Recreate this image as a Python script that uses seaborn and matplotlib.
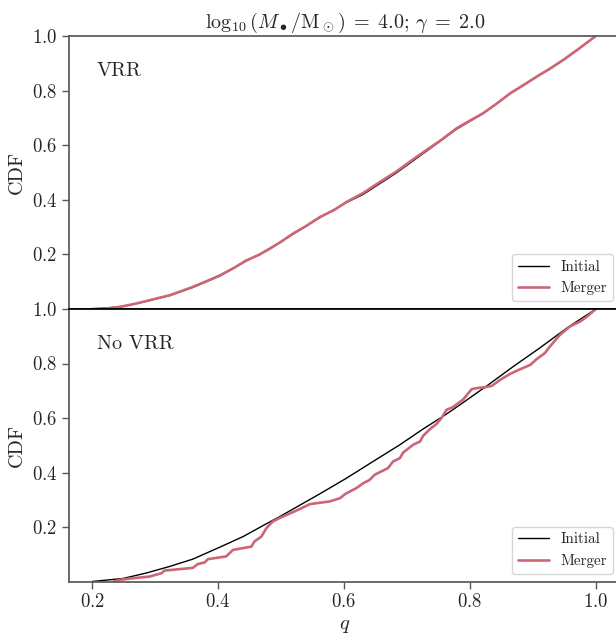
import numpy as np
import pandas as pd
import matplotlib
matplotlib.use("Agg")
import matplotlib.pyplot as plt
import seaborn as sns

# ---- data ----
q_top_init = [0.200, 0.249, 0.286, 0.323, 0.360, 0.403, 0.445, 0.482, 0.519, 0.562,
              0.604, 0.630, 0.683, 0.731, 0.779, 0.821, 0.864, 0.906, 0.948, 1.000]
cdf_top_init = [0.000, 0.009, 0.028, 0.049, 0.079, 0.121, 0.176, 0.219, 0.274, 0.335,
                0.390, 0.419, 0.498, 0.578, 0.659, 0.716, 0.789, 0.850, 0.911, 1.000]

q_top_merg = [0.200, 0.230, 0.249, 0.270, 0.286, 0.305, 0.323, 0.340, 0.360, 0.380,
              0.403, 0.425, 0.445, 0.465, 0.482, 0.500, 0.519, 0.540, 0.562, 0.585,
              0.604, 0.630, 0.655, 0.683, 0.705, 0.731, 0.755, 0.779, 0.800, 0.821,
              0.843, 0.864, 0.885, 0.906, 0.927, 0.948, 0.970, 1.000]
cdf_top_merg = [0.000, 0.003, 0.010, 0.020, 0.029, 0.040, 0.050, 0.064, 0.081, 0.100,
                0.123, 0.150, 0.178, 0.198, 0.221, 0.246, 0.276, 0.304, 0.337, 0.363,
                0.392, 0.424, 0.462, 0.503, 0.540, 0.582, 0.620, 0.662, 0.690, 0.717,
                0.753, 0.790, 0.820, 0.851, 0.880, 0.912, 0.948, 1.000]

q_bot_init = [0.200, 0.249, 0.286, 0.323, 0.360, 0.403, 0.440, 0.477, 0.498, 0.517,
              0.562, 0.604, 0.646, 0.689, 0.726, 0.760, 0.784, 0.827, 0.869, 0.911,
              0.954, 1.000]
cdf_bot_init = [0.000, 0.011, 0.031, 0.055, 0.082, 0.126, 0.165, 0.212, 0.238, 0.263,
                0.322, 0.379, 0.440, 0.502, 0.560, 0.610, 0.648, 0.718, 0.789, 0.857,
                0.930, 1.000]

q_bot_merg = [0.235, 0.244, 0.265, 0.291, 0.310, 0.315, 0.360, 0.368, 0.379, 0.384,
              0.413, 0.424, 0.453, 0.458, 0.469, 0.477, 0.487, 0.498, 0.530, 0.546,
              0.578, 0.594, 0.602, 0.620, 0.631, 0.641, 0.649, 0.670, 0.678, 0.689,
              0.694, 0.710, 0.721, 0.726, 0.737, 0.747, 0.755, 0.763, 0.773, 0.789,
              0.803, 0.812, 0.824, 0.835, 0.848, 0.864, 0.880, 0.896, 0.906, 0.919,
              0.927, 0.943, 0.959, 0.975, 0.986, 1.000]
cdf_bot_merg = [0.000, 0.006, 0.012, 0.018, 0.030, 0.040, 0.050, 0.064, 0.070, 0.082,
                0.092, 0.116, 0.128, 0.147, 0.165, 0.196, 0.220, 0.233, 0.266, 0.284,
                0.294, 0.306, 0.321, 0.343, 0.361, 0.373, 0.392, 0.416, 0.440, 0.453,
                0.473, 0.502, 0.514, 0.535, 0.560, 0.578, 0.600, 0.630, 0.640, 0.667,
                0.706, 0.710, 0.713, 0.718, 0.740, 0.762, 0.779, 0.795, 0.816, 0.838,
                0.862, 0.905, 0.936, 0.954, 0.972, 1.000]

panel_labels = ["VRR", "No VRR"]
series_labels = ["Initial", "Merger"]
xticks = [0.2, 0.4, 0.6, 0.8, 1.0]
yticks = [0.2, 0.4, 0.6, 0.8, 1.0]

# ---- style ----
sns.set_theme(style="ticks")
plt.rcParams["font.family"] = ["cmr10", "DejaVu Serif"]
plt.rcParams["mathtext.fontset"] = "cm"
plt.rcParams["axes.formatter.use_mathtext"] = True
plt.rcParams["axes.unicode_minus"] = False
plt.rcParams["axes.edgecolor"] = "0.35"
plt.rcParams["xtick.color"] = "0.35"
plt.rcParams["ytick.color"] = "0.35"
plt.rcParams["xtick.labelcolor"] = "0.15"
plt.rcParams["ytick.labelcolor"] = "0.15"

pink = "#CC6677"

fig = plt.figure(figsize=(6.16, 6.37), dpi=100)
W, H = 616, 637
left, right = 69 / W, 621 / W
ax_top = fig.add_axes([left, 1 - 309 / H, right - left, (309 - 36) / H])
ax_bot = fig.add_axes([left, 1 - 581.5 / H, right - left, (581.5 - 309) / H])

data = [
    (ax_top, q_top_init, cdf_top_init, q_top_merg, cdf_top_merg, panel_labels[0]),
    (ax_bot, q_bot_init, cdf_bot_init, q_bot_merg, cdf_bot_merg, panel_labels[1]),
]

for ax, qi, ci, qm, cm, lab in data:
    dfi = pd.DataFrame({"q": qi, "cdf": ci})
    dfm = pd.DataFrame({"q": qm, "cdf": cm})
    sns.lineplot(data=dfi, x="q", y="cdf", ax=ax, color="black", lw=1.0,
                 label=series_labels[0], estimator=None, sort=False)
    sns.lineplot(data=dfm, x="q", y="cdf", ax=ax, color=pink, lw=1.9,
                 label=series_labels[1], estimator=None, sort=False)
    ax.set_xlim(0.1635, 1.04)
    ax.set_ylim(0, 1)
    ax.set_yticks(yticks)
    ax.set_xticks(xticks)
    ax.set_ylabel("CDF", fontsize=14.5, color="0.15")
    ax.tick_params(labelsize=13.5, length=5, width=1.0)
    for s in ax.spines.values():
        s.set_linewidth(1.25)
    ax.text(0.05, 0.87, lab, transform=ax.transAxes, fontsize=14.5,
            va="center", ha="left", color="0.15")
    leg = ax.legend(loc="lower right", fontsize=10.9, frameon=True)
    leg.get_frame().set_edgecolor("0.8")

ax_top.tick_params(axis="x", bottom=False, labelbottom=False)
ax_top.set_xlabel("")
ax_bot.set_xlabel(r"$q$", fontsize=15, color="0.15")
ax_bot.spines["top"].set_color("black")
ax_top.spines["bottom"].set_color("black")
ax_top.set_title(r"$\log_{10}(M_\bullet/\mathrm{M}_\odot)\;=\;4.0$; $\gamma\;=\;2.0$",
                 fontsize=14.5, color="0.15", pad=6)

fig.savefig("out.png", dpi=100)
